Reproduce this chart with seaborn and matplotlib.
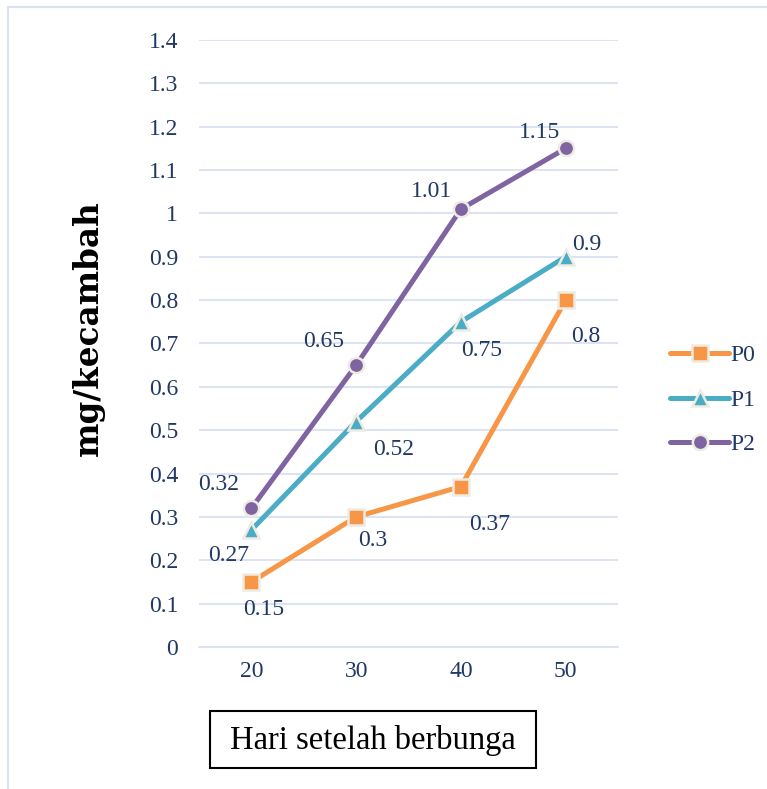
import numpy as np
import pandas as pd
import matplotlib
matplotlib.use("Agg")
import matplotlib.pyplot as plt
import seaborn as sns
from matplotlib.patches import Rectangle

hari = [20, 30, 40, 50]
p0 = [0.15, 0.30, 0.37, 0.80]
p1 = [0.27, 0.52, 0.75, 0.90]
p2 = [0.32, 0.65, 1.01, 1.15]
series_names = ["P0", "P1", "P2"]

df = pd.DataFrame({
    "hari": hari * 3,
    "nilai": p0 + p1 + p2,
    "seri": ["P0"] * 4 + ["P1"] * 4 + ["P2"] * 4,
})

sns.set_theme(style="white")
plt.rcParams["font.family"] = ["Liberation Serif", "DejaVu Serif"]

blue_txt = "#203864"
grid_col = "#D9E2F3"
warna = {"P0": "#F79646", "P1": "#4BACC6", "P2": "#8064A2"}
penanda = {"P0": "s", "P1": "^", "P2": "o"}

fig = plt.figure(figsize=(7.67, 7.89), dpi=100)
ax = fig.add_axes([0.2595, 0.18, 0.5463, 0.7693])

sns.lineplot(data=df, x="hari", y="nilai", hue="seri", style="seri",
             palette=warna, markers=penanda, dashes=False, linewidth=3.6,
             markersize=11, markeredgecolor="#EEECE1", markeredgewidth=1.8,
             ax=ax, zorder=3)

# label data (offset dalam piksel)
offsets = {
    "P0": [(12, -28), (17, -24), (29, -38), (20, -36)],
    "P1": [(-23, -26), (37, -28), (21, -29), (21, 12)],
    "P2": [(-33, 24), (-33, 24), (-29, 18), (-26, 16)],
}
data_map = {"P0": p0, "P1": p1, "P2": p2}
for s in series_names:
    for x, y, off in zip(hari, data_map[s], offsets[s]):
        ax.annotate(f"{y:g}", (x, y), xytext=off, textcoords="offset pixels",
                    ha="center", va="center", fontsize=17, color=blue_txt)

ax.set_xlim(15, 55)
ax.set_ylim(0, 1.4)
ax.set_yticks(np.arange(0, 1.41, 0.1))
ax.set_yticklabels(["0"] + [f"{v:g}" for v in np.arange(0.1, 1.41, 0.1).round(1)])
ax.set_xticks(hari)
ax.set_xticks([15, 25, 35, 45, 55], minor=True)
ax.tick_params(axis="y", length=0, pad=15, labelsize=17, labelcolor=blue_txt)
ax.tick_params(axis="x", which="major", length=0, pad=10, labelsize=17, labelcolor=blue_txt)
ax.tick_params(axis="x", which="minor", length=6, width=1.3, color=grid_col, direction="out")
ax.grid(axis="y", color=grid_col, linewidth=1.3)
ax.grid(axis="x", visible=False)
for side in ["top", "right", "left"]:
    ax.spines[side].set_visible(False)
ax.spines["bottom"].set_color(grid_col)
ax.spines["bottom"].set_linewidth(1.3)
ax.set_xlabel("")
ax.set_ylabel("")

handles, labels = ax.get_legend_handles_labels()
ax.get_legend().remove()
leg = fig.legend(handles, labels, loc="center left", bbox_to_anchor=(0.846, 0.493),
                 frameon=False, fontsize=17, labelcolor=blue_txt, handlelength=2.5,
                 handletextpad=0.05, labelspacing=0.98)

fig.text(0.1147, 0.584, "mg/kecambah", rotation=90, ha="center", va="center",
         fontsize=23.5, fontweight="bold", family="DejaVu Serif", color="black")

fig.patches.append(Rectangle((0.2738, 0.0266), 0.425, 0.0722, transform=fig.transFigure,
                             fill=False, edgecolor="black", linewidth=1.5))
fig.text(0.4863, 0.0621, "Hari setelah berbunga", ha="center", va="center",
         fontsize=23.5, color="black")

# bingkai area grafik
fig.patches.append(Rectangle((0.0104, -0.05), 1.2, 1.05 - 7 / 789, transform=fig.transFigure,
                             fill=False, edgecolor="#D9E2F3", linewidth=1.5))

fig.savefig("out.png", dpi=100)
